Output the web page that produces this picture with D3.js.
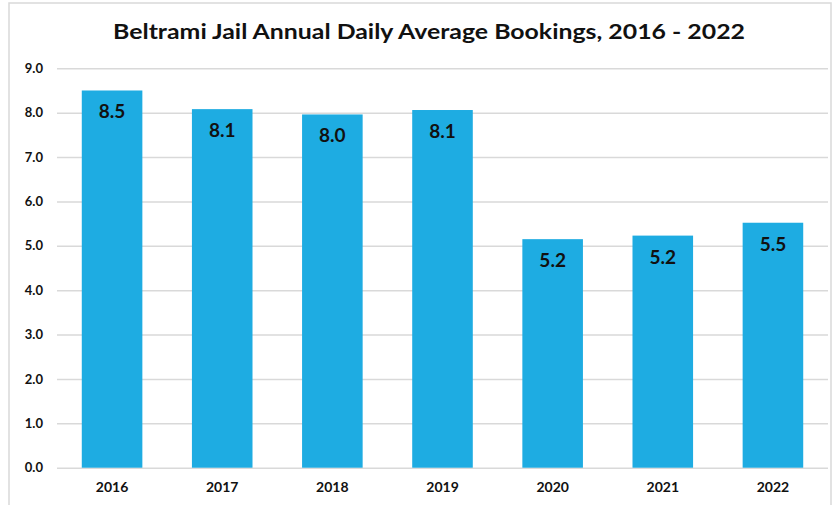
<!DOCTYPE html>
<html>
<head>
<meta charset="utf-8">
<script src="https://cdn.jsdelivr.net/npm/d3@7"></script>
<style>
  body { margin: 0; background: #fff; }
  text { font-family: "Lato", "Liberation Sans", sans-serif; font-weight: bold; fill: #111; }
</style>
</head>
<body>
<svg id="chart"></svg>
<script>
const years = ["2016", "2017", "2018", "2019", "2020", "2021", "2022"];
const bookings = [8.5, 8.08, 7.96, 8.06, 5.15, 5.23, 5.52];
const yTicks = [0, 1, 2, 3, 4, 5, 6, 7, 8, 9];
const title = "Beltrami Jail Annual Daily Average Bookings, 2016 - 2022";

const width = 838, height = 505;
const svg = d3.select("#chart").attr("width", width).attr("height", height);

// outer frame
svg.append("rect")
  .attr("x", 9).attr("y", 3)
  .attr("width", 822).attr("height", 520)
  .attr("fill", "none")
  .attr("stroke", "#d9d9d9")
  .attr("stroke-width", 1.5);

const x = d3.scaleBand().domain(years).range([57, 828]).paddingInner(0.45).paddingOuter(0.225);
const y = d3.scaleLinear().domain([0, 9]).range([467.7, 68.3]);

svg.append("text")
  .attr("x", 429).attr("y", 39)
  .attr("text-anchor", "middle")
  .attr("font-size", 20)
  .attr("textLength", 632)
  .attr("lengthAdjust", "spacingAndGlyphs")
  .text(title);

// gridlines + y labels
const yAxis = svg.append("g")
  .attr("transform", "translate(57,0)")
  .call(d3.axisLeft(y).tickValues(yTicks).tickSize(-771).tickFormat(d3.format(".1f")).tickPadding(14));
yAxis.select(".domain").remove();
yAxis.selectAll("line").attr("stroke", "#d9d9d9").attr("stroke-width", 1.5);
yAxis.selectAll("text").attr("font-size", 13).style("font-family", "Lato, sans-serif").attr("fill", "#111");

// bars
svg.append("g").selectAll("rect")
  .data(years)
  .join("rect")
  .attr("x", d => x(d))
  .attr("y", (d, i) => y(bookings[i]))
  .attr("width", x.bandwidth())
  .attr("height", (d, i) => y(0) - y(bookings[i]))
  .attr("fill", "#1eace2");

// value labels
svg.append("g").selectAll("text")
  .data(years)
  .join("text")
  .attr("x", d => x(d) + x.bandwidth() / 2)
  .attr("y", (d, i) => y(bookings[i]) + 28)
  .attr("text-anchor", "middle")
  .attr("font-size", 19)
  .text((d, i) => bookings[i].toFixed(1));

// x labels
const xAxis = svg.append("g")
  .attr("transform", "translate(0,467.7)")
  .call(d3.axisBottom(x).tickSize(0).tickPadding(14));
xAxis.select(".domain").remove();
xAxis.selectAll("text").attr("font-size", 14).style("font-family", "Lato, sans-serif").attr("fill", "#111");
</script>
</body>
</html>
